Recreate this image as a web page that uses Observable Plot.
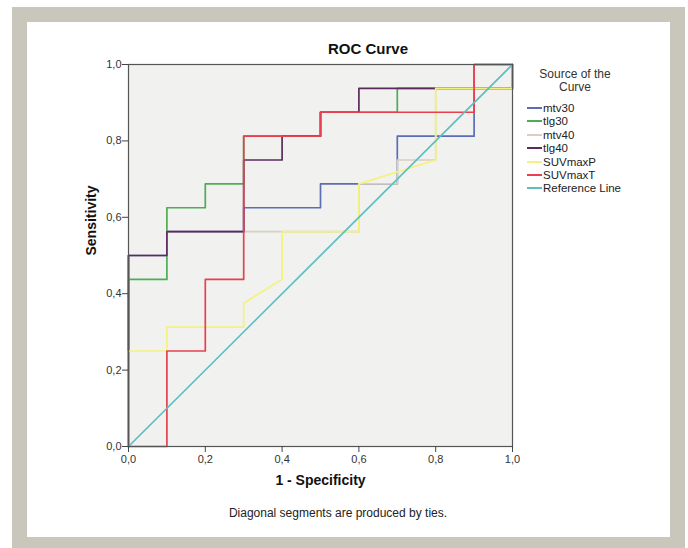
<!DOCTYPE html>
<html>
<head>
<meta charset="utf-8">
<script src="https://cdn.jsdelivr.net/npm/d3@7"></script>
<script src="https://cdn.jsdelivr.net/npm/@observablehq/plot@0.6"></script>
<style>
  html, body { margin: 0; padding: 0; background: #fff; }
  #wrap { position: relative; width: 688px; height: 548px; overflow: hidden; font-family: "Liberation Sans", Arial, sans-serif; color: #111; }
  #border { position: absolute; left: 12px; top: 7px; width: 643px; height: 515px; border: 15px solid #c9c7bb; box-sizing: content-box; }
  #chart { position: absolute; left: 0; top: 0; }
  .title { position: absolute; top: 40px; left: 268px; width: 200px; text-align: center; font-weight: bold; font-size: 15px; }
  .caption { position: absolute; top: 506px; left: 188px; width: 300px; text-align: center; font-size: 12px; color: #222; }
  #legend { position: absolute; left: 520px; top: 68px; width: 110px; font-size: 11.5px; color: #222; }
  #legend .lt { text-align: center; font-size: 12px; line-height: 13px; color: #333; }
  #legend .item { position: absolute; left: 7px; height: 13px; line-height: 13px; white-space: nowrap; }
  #legend .sw { display: inline-block; width: 15px; height: 0; border-top: 2px solid; vertical-align: middle; margin-right: 1px; position: relative; top: -1px; }
</style>
</head>
<body>
<div id="wrap">
  <div id="border"></div>
  <div id="chart"></div>
  <div class="title">ROC Curve</div>
  <div class="caption">Diagonal segments are produced by ties.</div>
  <div id="legend"></div>
</div>
<script>
// Series names and colours
const seriesNames = ["mtv30", "tlg30", "mtv40", "tlg40", "SUVmaxP", "SUVmaxT", "Reference Line"];
const seriesColors = ["#5b6db5", "#4cae52", "#d6d0bc", "#5a2b5c", "#f4f27c", "#e8404f", "#5cbfc2"];

// Curve points (1 - Specificity, Sensitivity)
const mtv30X = [0, 0, 0.1, 0.1, 0.3, 0.3, 0.5, 0.5, 0.7, 0.7, 0.9, 0.9, 1];
const mtv30Y = [0, 0.5, 0.5, 0.5625, 0.5625, 0.625, 0.625, 0.6875, 0.6875, 0.8125, 0.8125, 1, 1];

const tlg30X = [0, 0, 0.1, 0.1, 0.2, 0.2, 0.3, 0.3, 0.5, 0.5, 0.7, 0.7, 1, 1];
const tlg30Y = [0, 0.4375, 0.4375, 0.625, 0.625, 0.6875, 0.6875, 0.8125, 0.8125, 0.875, 0.875, 0.9375, 0.9375, 1];

const mtv40X = [0, 0, 0.1, 0.1, 0.6, 0.6, 0.7, 0.7, 0.8, 0.8, 1, 1];
const mtv40Y = [0, 0.5, 0.5, 0.5625, 0.5625, 0.6875, 0.6875, 0.75, 0.75, 0.9375, 0.9375, 1];

const tlg40X = [0, 0, 0.1, 0.1, 0.3, 0.3, 0.4, 0.4, 0.5, 0.5, 0.6, 0.6, 1, 1];
const tlg40Y = [0, 0.5, 0.5, 0.5625, 0.5625, 0.75, 0.75, 0.8125, 0.8125, 0.875, 0.875, 0.9375, 0.9375, 1];

const suvPX = [0, 0, 0.1, 0.1, 0.3, 0.3, 0.4, 0.4, 0.6, 0.6, 0.8, 0.8, 1, 1];
const suvPY = [0, 0.25, 0.25, 0.3125, 0.3125, 0.375, 0.4375, 0.5625, 0.5625, 0.6875, 0.75, 0.9375, 0.9375, 1];

const suvTX = [0, 0.1, 0.1, 0.2, 0.2, 0.3, 0.3, 0.5, 0.5, 0.9, 0.9, 1];
const suvTY = [0, 0, 0.25, 0.25, 0.4375, 0.4375, 0.8125, 0.8125, 0.875, 0.875, 1, 1];

const refX = [0, 1];
const refY = [0, 1];

// Axis ticks
const xTicks = [0, 0.2, 0.4, 0.6, 0.8, 1.0];
const yTicks = [0, 0.2, 0.4, 0.6, 0.8, 1.0];

const seriesXY = [
  [mtv30X, mtv30Y], [tlg30X, tlg30Y], [mtv40X, mtv40Y], [tlg40X, tlg40Y],
  [suvPX, suvPY], [suvTX, suvTY], [refX, refY]
];
const rows = seriesNames.map((name, i) =>
  seriesXY[i][0].map((x, j) => ({series: name, x, y: seriesXY[i][1][j]}))
);

const fmt = v => d3.format(".1f")(v).replace(".", ",");

const chart = Plot.plot({
  width: 688,
  height: 548,
  marginLeft: 128,
  marginRight: 176,
  marginTop: 64,
  marginBottom: 102,
  style: {fontFamily: "'Liberation Sans', Arial, sans-serif", fontSize: "11px", background: "transparent", color: "#333"},
  x: {domain: [0, 1]},
  y: {domain: [0, 1]},
  color: {domain: seriesNames, range: seriesColors},
  marks: [
    Plot.frame({fill: "#f1f1f0", stroke: null}),
    ...rows.map(r => Plot.line(r, {x: "x", y: "y", stroke: "series", strokeWidth: 1.7})),
    Plot.frame({stroke: "#555", strokeWidth: 1.2}),
    Plot.axisX({ticks: xTicks, tickFormat: fmt, tickSize: 6, tickPadding: 3, label: null, stroke: "#444", fill: "#333"}),
    Plot.axisY({ticks: yTicks, tickFormat: fmt, tickSize: 6, tickPadding: 1, label: null, stroke: "#444", fill: "#333"}),
    Plot.text(["1 - Specificity"], {frameAnchor: "bottom", dy: 38, text: d => d, fontWeight: "bold", fontSize: 14, fill: "#111"}),
    Plot.text(["Sensitivity"], {frameAnchor: "left", dx: -37, rotate: -90, text: d => d, fontWeight: "bold", fontSize: 14, fill: "#111"})
  ]
});
document.getElementById("chart").appendChild(chart);

// Legend
const legend = document.getElementById("legend");
const lt = document.createElement("div");
lt.className = "lt";
lt.innerHTML = "Source of the<br>Curve";
legend.appendChild(lt);
seriesNames.forEach((name, i) => {
  const it = document.createElement("div");
  it.className = "item";
  it.style.top = (34 + i * 13.4) + "px";
  const sw = document.createElement("span");
  sw.className = "sw";
  sw.style.borderTopColor = seriesColors[i];
  it.appendChild(sw);
  it.appendChild(document.createTextNode(name));
  legend.appendChild(it);
});
</script>
</body>
</html>
